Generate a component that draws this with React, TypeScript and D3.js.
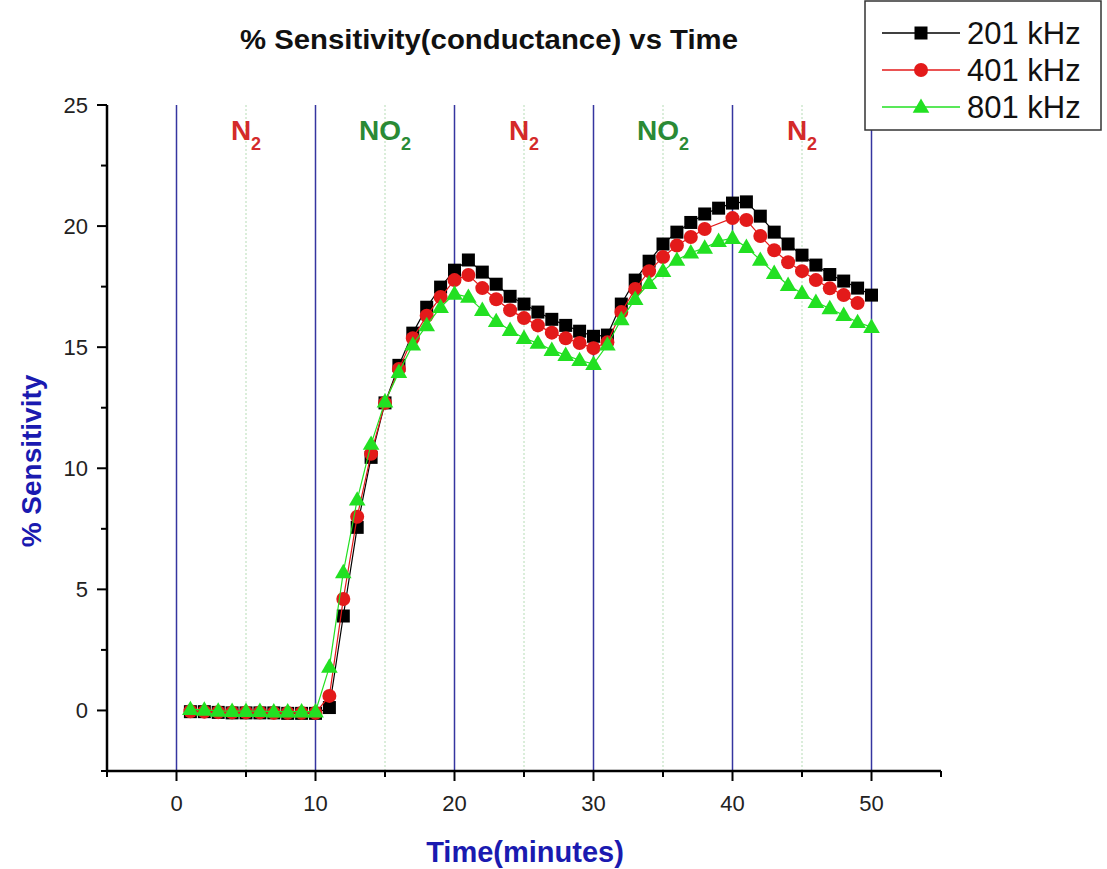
import React from "react";
import * as d3 from "d3";

const times = d3.range(1, 51);
const s201: (number | null)[] = [
  -0.05, -0.05, -0.08, -0.1, -0.1, -0.1, -0.1, -0.12, -0.12, -0.12,
  0.12, 3.9, 7.56, 10.45, 12.7, 14.25, 15.58, 16.65, 17.48, 18.18,
  18.6, 18.1, 17.6, 17.1, 16.78, 16.45, 16.15, 15.9, 15.66, 15.45,
  15.5, 16.78, 17.77, 18.55, 19.26, 19.75, 20.15, 20.5, 20.74, 20.95,
  21.0, 20.41, 19.75, 19.26, 18.8, 18.39, 18.0, 17.73, 17.44, 17.15,
];
const s401: (number | null)[] = [
  -0.03, -0.05, -0.07, -0.08, -0.08, -0.08, -0.1, -0.1, -0.1, -0.1,
  0.6, 4.6, 8.0, 10.6, 12.7, 14.1, 15.37, 16.3, 17.07, 17.77,
  17.98, 17.44, 16.98, 16.53, 16.2, 15.9, 15.6, 15.37, 15.17, 14.96,
  15.2, 16.45, 17.4, 18.14, 18.72, 19.2, 19.55, 19.88, null, 20.33,
  20.25, 19.59, 19.0, 18.51, 18.14, 17.77, 17.43, 17.15, 16.82, null,
];
const s801: (number | null)[] = [
  0.05, 0.02, -0.02, -0.03, -0.03, -0.03, -0.05, -0.05, -0.05, -0.05,
  1.8, 5.7, 8.7, 11.0, 12.75, 13.97, 15.1, 15.9, 16.65, 17.2,
  17.07, 16.53, 16.07, 15.7, 15.37, 15.17, 14.88, 14.67, 14.46, 14.3,
  15.1, 16.15, 16.98, 17.64, 18.14, 18.6, 18.9, 19.1, 19.38, 19.5,
  19.13, 18.6, 18.06, 17.56, 17.23, 16.86, 16.6, 16.32, 16.03, 15.83,
];
const seriesNames = ["201 kHz", "401 kHz", "801 kHz"];
const seriesColors = ["#000000", "#e31a1a", "#22e022"];
const seriesMarkers = ["square", "circle", "triangle"];
const seriesValues = [s201, s401, s801];

const xTicks = [0, 10, 20, 30, 40, 50];
const xMinor = [-5, 5, 15, 25, 35, 45, 55];
const yTicks = [0, 5, 10, 15, 20, 25];
const yMinor = [-2.5, 2.5, 7.5, 12.5, 17.5, 22.5];
const boundaries = [0, 10, 20, 30, 40, 50];
const midlines = [5, 15, 25, 35, 45];
const gasLabels = [
  { t: 5, base: "N", color: "#d42a2a" },
  { t: 15, base: "NO", color: "#2a8a35" },
  { t: 25, base: "N", color: "#d42a2a" },
  { t: 35, base: "NO", color: "#2a8a35" },
  { t: 45, base: "N", color: "#d42a2a" },
];

const x = d3.scaleLinear().domain([-5, 55]).range([107, 941]);
const y = d3.scaleLinear().domain([-2.5, 25]).range([771, 105]);

function Marker({ kind, cx, cy, color }: { kind: string; cx: number; cy: number; color: string }) {
  if (kind === "square") return <rect x={cx - 6.5} y={cy - 6.5} width={13} height={13} fill={color} />;
  if (kind === "circle") return <circle cx={cx} cy={cy} r={7} fill={color} />;
  const sym = d3.symbol().type(d3.symbolTriangle).size(120)();
  return <path d={sym || ""} transform={`translate(${cx},${cy + 1})`} fill={color} />;
}

export default function App() {
  const font = "'Liberation Sans', Arial, sans-serif";
  const line = d3
    .line<[number, number]>()
    .x((d) => x(d[0]))
    .y((d) => y(d[1]));
  return (
    <svg
      width={1107}
      height={869}
      style={{ position: "absolute", left: 0, top: 0, background: "#fff" }}
      fontFamily={font}
    >
      <rect width={1107} height={869} fill="#fff" />
      {midlines.map((t) => (
        <line key={"m" + t} x1={x(t)} x2={x(t)} y1={y(25)} y2={y(-2.5)} stroke="#b5dcb5" strokeWidth={1} strokeDasharray="2,2" />
      ))}
      {boundaries.map((t) => (
        <line key={"b" + t} x1={x(t)} x2={x(t)} y1={y(25)} y2={y(-2.5)} stroke="#3535a0" strokeWidth={1.5} />
      ))}
      {gasLabels.map((g, i) => (
        <text key={"g" + i} x={x(g.t)} y={140} textAnchor="middle" fill={g.color} fontWeight="bold" fontSize={28}>
          {g.base}
          <tspan fontSize={18} dy={10}>2</tspan>
        </text>
      ))}
      <line x1={107} x2={107} y1={y(25)} y2={y(-2.5) + 1} stroke="#000" strokeWidth={2.5} />
      <line x1={106} x2={941} y1={771} y2={771} stroke="#000" strokeWidth={2.5} />
      {xTicks.map((t) => (
        <g key={"xt" + t}>
          <line x1={x(t)} x2={x(t)} y1={771} y2={781} stroke="#000" strokeWidth={2} />
          <text x={x(t)} y={811} textAnchor="middle" fontSize={22} fill="#222">{t}</text>
        </g>
      ))}
      {xMinor.map((t) => (
        <line key={"xm" + t} x1={x(t)} x2={x(t)} y1={771} y2={777} stroke="#000" strokeWidth={2} />
      ))}
      {yTicks.map((t) => (
        <g key={"yt" + t}>
          <line x1={97} x2={107} y1={y(t)} y2={y(t)} stroke="#000" strokeWidth={2} />
          <text x={88} y={y(t) + 8} textAnchor="end" fontSize={22} fill="#222">{t}</text>
        </g>
      ))}
      {yMinor.map((t) => (
        <line key={"ym" + t} x1={101} x2={107} y1={y(t)} y2={y(t)} stroke="#000" strokeWidth={2} />
      ))}
      {seriesValues.map((vals, si) => {
        const pts = times
          .map((t, i) => [t, vals[i]] as [number, number | null])
          .filter((d) => d[1] !== null) as [number, number][];
        return (
          <g key={"s" + si}>
            <path d={line(pts) || ""} fill="none" stroke={seriesColors[si]} strokeWidth={1.2} />
            {pts.map((d, i) => (
              <Marker key={i} kind={seriesMarkers[si]} cx={x(d[0])} cy={y(d[1])} color={seriesColors[si]} />
            ))}
          </g>
        );
      })}
      <text x={489} y={49} textAnchor="middle" fontSize={28} fontWeight="bold" fill="#111" textLength={498} lengthAdjust="spacingAndGlyphs">
        % Sensitivity(conductance) vs Time
      </text>
      <text x={525} y={862} textAnchor="middle" fontSize={29} fontWeight="bold" fill="#1a1ab0">
        Time(minutes)
      </text>
      <text transform="translate(41,461) rotate(-90)" textAnchor="middle" fontSize={28} fontWeight="bold" fill="#1a1ab0">
        % Sensitivity
      </text>
      <rect x={865} y={1} width={236} height={129} fill="#fff" stroke="#333" strokeWidth={1.5} />
      {seriesNames.map((n, i) => {
        const ly = 33 + i * 37;
        return (
          <g key={"l" + i}>
            <line x1={882} x2={960} y1={ly} y2={ly} stroke={seriesColors[i]} strokeWidth={1.5} />
            <Marker kind={seriesMarkers[i]} cx={921} cy={ly} color={seriesColors[i]} />
            <text x={967} y={ly + 11} fontSize={31} fill="#111">{n}</text>
          </g>
        );
      })}
    </svg>
  );
}
